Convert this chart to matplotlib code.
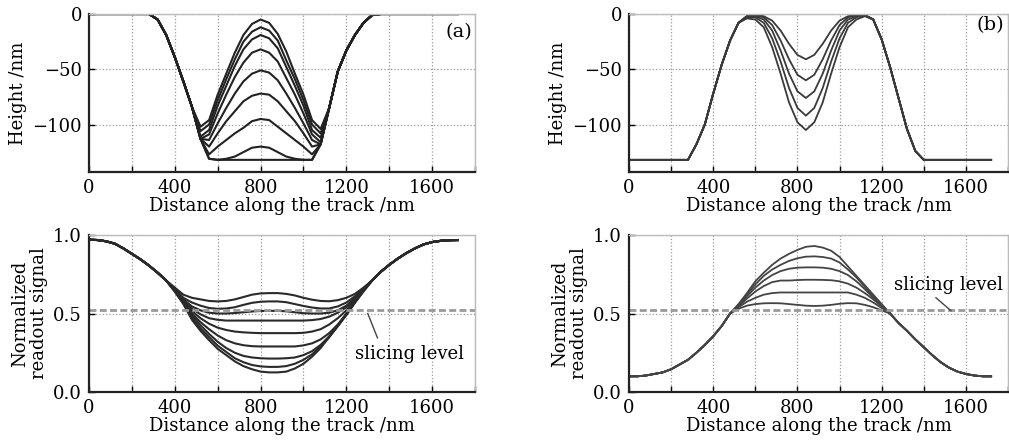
import numpy as np
import matplotlib.pyplot as plt

plt.rcParams['font.family'] = 'DejaVu Serif'
plt.rcParams['font.size'] = 12
plt.rcParams['axes.unicode_minus'] = True

# sample positions along the track /nm (every 40 nm, 0..1720)
x = np.arange(0, 1721, 40)

# ---- (a) height profiles: shared outer wall + inner parts (520..1080 nm) ----
a_left = [0, 0, 0, 0, 0, 0, 0, 0, -5, -19, -39, -61, -84]
a_right = [-85, -52, -33, -19, -8, -1, 0, 0, 0, 0, 0, 0, 0, 0, 0, 0]
a_inner = [
    [-102, -96, -73, -54, -35, -19, -9, -5, -8, -18, -34, -54, -73, -96, -104],
    [-106, -100, -78, -59, -41, -25, -16, -12, -15, -24, -42, -59, -78, -100, -108],
    [-111, -105, -83, -65, -47, -32, -23, -19, -22, -31, -48, -65, -83, -105, -112],
    [-113, -109, -90, -73, -57, -44, -35, -32, -35, -43, -58, -73, -90, -109, -116],
    [-113, -114, -99, -85, -72, -61, -54, -51, -53, -60, -72, -85, -99, -114, -118],
    [-113, -120, -108, -97, -88, -79, -74, -72, -73, -79, -88, -97, -108, -120, -118],
    [-113, -127, -120, -114, -108, -103, -97, -95, -96, -102, -108, -114, -120, -127, -118],
    [-113, -131, -132, -131, -129, -125, -121, -120, -121, -125, -129, -131, -132, -132, -118],
    [-113, -131, -132, -132, -132, -132, -132, -132, -132, -132, -132, -132, -132, -132, -118],
]

# ---- (b) height profiles: shared outer wall + inner parts (560..1120 nm) ----
b_left = [-132, -132, -132, -132, -132, -132, -132, -132, -118, -100, -72, -46, -24, -8]
b_right = [-5, -23, -48, -76, -104, -124, -132, -132, -132, -132, -132, -132, -132, -132, -132]
b_inner = [
    [-2, 0, 0, 0, 0, 0, 0, 0, 0, 0, 0, 0, 0, 0, -1],
    [-2, -1, -2, -6, -15, -27, -37, -41, -37, -27, -15, -6, -2, -1, -1],
    [-2, -1, -3, -10, -24, -41, -55, -60, -55, -41, -24, -10, -3, -1, -1],
    [-2, -2, -5, -15, -33, -54, -70, -76, -70, -54, -33, -15, -5, -2, -1],
    [-3, -3, -8, -22, -43, -67, -85, -92, -85, -67, -43, -22, -8, -3, -1],
    [-4, -5, -12, -30, -54, -80, -98, -105, -98, -80, -54, -30, -12, -5, -2],
]

# ---- (a) readout signal: shared ends + inner parts (400..1280 nm) ----
sa_left = [0.97, 0.968, 0.96, 0.945, 0.915, 0.88, 0.845, 0.805, 0.76, 0.71]
sa_right = [0.71, 0.765, 0.81, 0.85, 0.885, 0.915, 0.94, 0.955, 0.963, 0.967, 0.968]
sa_inner = [
    [0.665, 0.62, 0.60, 0.59, 0.58, 0.577, 0.58, 0.59, 0.605, 0.62, 0.628, 0.63,
     0.63, 0.625, 0.615, 0.60, 0.588, 0.58, 0.578, 0.585, 0.60, 0.625, 0.665],
    [0.66, 0.60, 0.57, 0.55, 0.535, 0.53, 0.532, 0.54, 0.555, 0.568, 0.575, 0.577,
     0.577, 0.572, 0.56, 0.548, 0.538, 0.532, 0.532, 0.545, 0.57, 0.61, 0.66],
    [0.655, 0.59, 0.545, 0.52, 0.505, 0.50, 0.50, 0.503, 0.508, 0.513, 0.516, 0.517,
     0.517, 0.514, 0.508, 0.502, 0.50, 0.50, 0.505, 0.52, 0.55, 0.60, 0.655],
    [0.65, 0.585, 0.53, 0.495, 0.47, 0.46, 0.455, 0.455, 0.455, 0.455, 0.455, 0.455,
     0.455, 0.455, 0.455, 0.455, 0.458, 0.465, 0.48, 0.505, 0.54, 0.595, 0.65],
    [0.65, 0.58, 0.515, 0.47, 0.435, 0.41, 0.395, 0.385, 0.38, 0.377, 0.375, 0.375,
     0.375, 0.375, 0.375, 0.377, 0.385, 0.40, 0.43, 0.47, 0.52, 0.585, 0.65],
    [0.645, 0.575, 0.50, 0.445, 0.40, 0.36, 0.33, 0.31, 0.298, 0.292, 0.29, 0.29,
     0.29, 0.29, 0.29, 0.297, 0.31, 0.335, 0.375, 0.43, 0.50, 0.575, 0.645],
    [0.645, 0.57, 0.49, 0.425, 0.37, 0.32, 0.28, 0.25, 0.23, 0.22, 0.215, 0.213,
     0.213, 0.215, 0.22, 0.235, 0.26, 0.30, 0.355, 0.42, 0.495, 0.57, 0.645],
    [0.64, 0.565, 0.475, 0.405, 0.35, 0.295, 0.255, 0.215, 0.19, 0.172, 0.163, 0.16,
     0.16, 0.165, 0.18, 0.205, 0.24, 0.29, 0.35, 0.42, 0.495, 0.57, 0.645],
    [0.64, 0.56, 0.46, 0.39, 0.33, 0.275, 0.235, 0.195, 0.165, 0.145, 0.13, 0.125,
     0.125, 0.13, 0.15, 0.18, 0.225, 0.28, 0.35, 0.42, 0.49, 0.57, 0.64],
]

# ---- (b) readout signal: shared ends + inner parts (480..1240 nm) ----
sb_left = [0.10, 0.10, 0.105, 0.115, 0.125, 0.145, 0.175, 0.205, 0.25, 0.30, 0.355, 0.42]
sb_right = [0.44, 0.39, 0.335, 0.285, 0.235, 0.19, 0.155, 0.13, 0.115, 0.105, 0.10, 0.10]
sb_inner = [
    [0.50, 0.56, 0.63, 0.705, 0.76, 0.81, 0.85, 0.88, 0.905, 0.925,
     0.93, 0.92, 0.90, 0.86, 0.80, 0.74, 0.68, 0.62, 0.56, 0.50],
    [0.50, 0.555, 0.62, 0.685, 0.74, 0.78, 0.81, 0.835, 0.852, 0.862,
     0.864, 0.86, 0.85, 0.825, 0.78, 0.73, 0.67, 0.61, 0.555, 0.50],
    [0.50, 0.55, 0.61, 0.665, 0.71, 0.745, 0.77, 0.785, 0.792, 0.794,
     0.794, 0.792, 0.785, 0.77, 0.745, 0.705, 0.655, 0.60, 0.55, 0.50],
    [0.50, 0.545, 0.595, 0.64, 0.675, 0.70, 0.71, 0.71, 0.713, 0.715,
     0.715, 0.714, 0.712, 0.705, 0.69, 0.665, 0.63, 0.59, 0.545, 0.50],
    [0.50, 0.54, 0.575, 0.60, 0.62, 0.63, 0.634, 0.634, 0.634, 0.634,
     0.634, 0.634, 0.634, 0.634, 0.634, 0.62, 0.60, 0.57, 0.535, 0.50],
    [0.50, 0.53, 0.55, 0.56, 0.565, 0.566, 0.565, 0.56, 0.555, 0.55,
     0.548, 0.55, 0.555, 0.562, 0.566, 0.565, 0.555, 0.54, 0.52, 0.50],
]

slicing_level = 0.525
xlabel = 'Distance along the track /nm'


def style(ax, ylim, yticks, ylabels, ylabel):
    ax.set_xlim(0, 1800)
    ax.set_ylim(*ylim)
    ax.set_xticks([0, 400, 800, 1200, 1600])
    ax.set_xticks([200, 600, 1000, 1400, 1800], minor=True)
    ax.set_yticks(yticks)
    ax.set_yticklabels(ylabels)
    ax.grid(True, which='both', axis='x', color='#999999', ls=':', lw=0.9)
    ax.grid(True, which='major', axis='y', color='#999999', ls=':', lw=0.9)
    ax.tick_params(which='both', direction='in', length=4, width=1, pad=5,
                   labelsize=13)
    for s in ['left', 'bottom']:
        ax.spines[s].set_linewidth(1.6)
        ax.spines[s].set_color('#222222')
    for s in ['top', 'right']:
        ax.spines[s].set_linewidth(1.0)
        ax.spines[s].set_color('#bbbbbb')
    ax.set_xlabel(xlabel, fontsize=13, labelpad=0)
    ax.set_ylabel(ylabel, fontsize=13, linespacing=1.0)
    ax.set_axisbelow(True)


fig = plt.figure(figsize=(10.09, 4.43), dpi=100)
ax1 = fig.add_axes([0.0882, 0.6117, 0.3826, 0.3567])
ax2 = fig.add_axes([0.6234, 0.6117, 0.3756, 0.3567])
ax3 = fig.add_axes([0.0882, 0.1151, 0.3826, 0.3544])
ax4 = fig.add_axes([0.6234, 0.1151, 0.3756, 0.3544])

for inner in a_inner:
    ax1.plot(x, a_left + inner + a_right, color='#222222', lw=1.5)
for inner in b_inner:
    ax2.plot(x, b_left + inner + b_right, color='#3a3a3a', lw=1.3)
for inner in sa_inner:
    ax3.plot(x, sa_left + inner + sa_right, color='#2a2a2a', lw=1.5)
for inner in sb_inner:
    ax4.plot(x, sb_left + inner + sb_right, color='#444444', lw=1.3)

hl = ['\u2212100', '\u221250', '0']
style(ax1, (-143, 0), [-100, -50, 0], hl, 'Height /nm')
style(ax2, (-143, 0), [-100, -50, 0], hl, 'Height /nm')
sl = ['0.0', '0.5', '1.0']
style(ax3, (0, 1), [0, 0.5, 1.0], sl, 'Normalized\nreadout signal')
style(ax4, (0, 1), [0, 0.5, 1.0], sl, 'Normalized\nreadout signal')

ax1.text(0.993, 0.885, '(a)', transform=ax1.transAxes, ha='right', va='center',
         fontsize=14)
ax2.text(0.99, 0.93, '(b)', transform=ax2.transAxes, ha='right', va='center',
         fontsize=14)

for ax in (ax3, ax4):
    ax.axhline(slicing_level, color='#999999', ls=(0, (2.5, 1.2)), lw=2.0)

ax3.plot([1300, 1345], [0.50, 0.345], color='#444444', lw=1.0)
ax3.text(1240, 0.24, 'slicing level', fontsize=13, va='center', ha='left')
ax4.plot([1458, 1529], [0.60, 0.518], color='#444444', lw=1.0)
ax4.text(1259, 0.683, 'slicing level', fontsize=13, va='center', ha='left')

fig.savefig('out.png', dpi=100)
